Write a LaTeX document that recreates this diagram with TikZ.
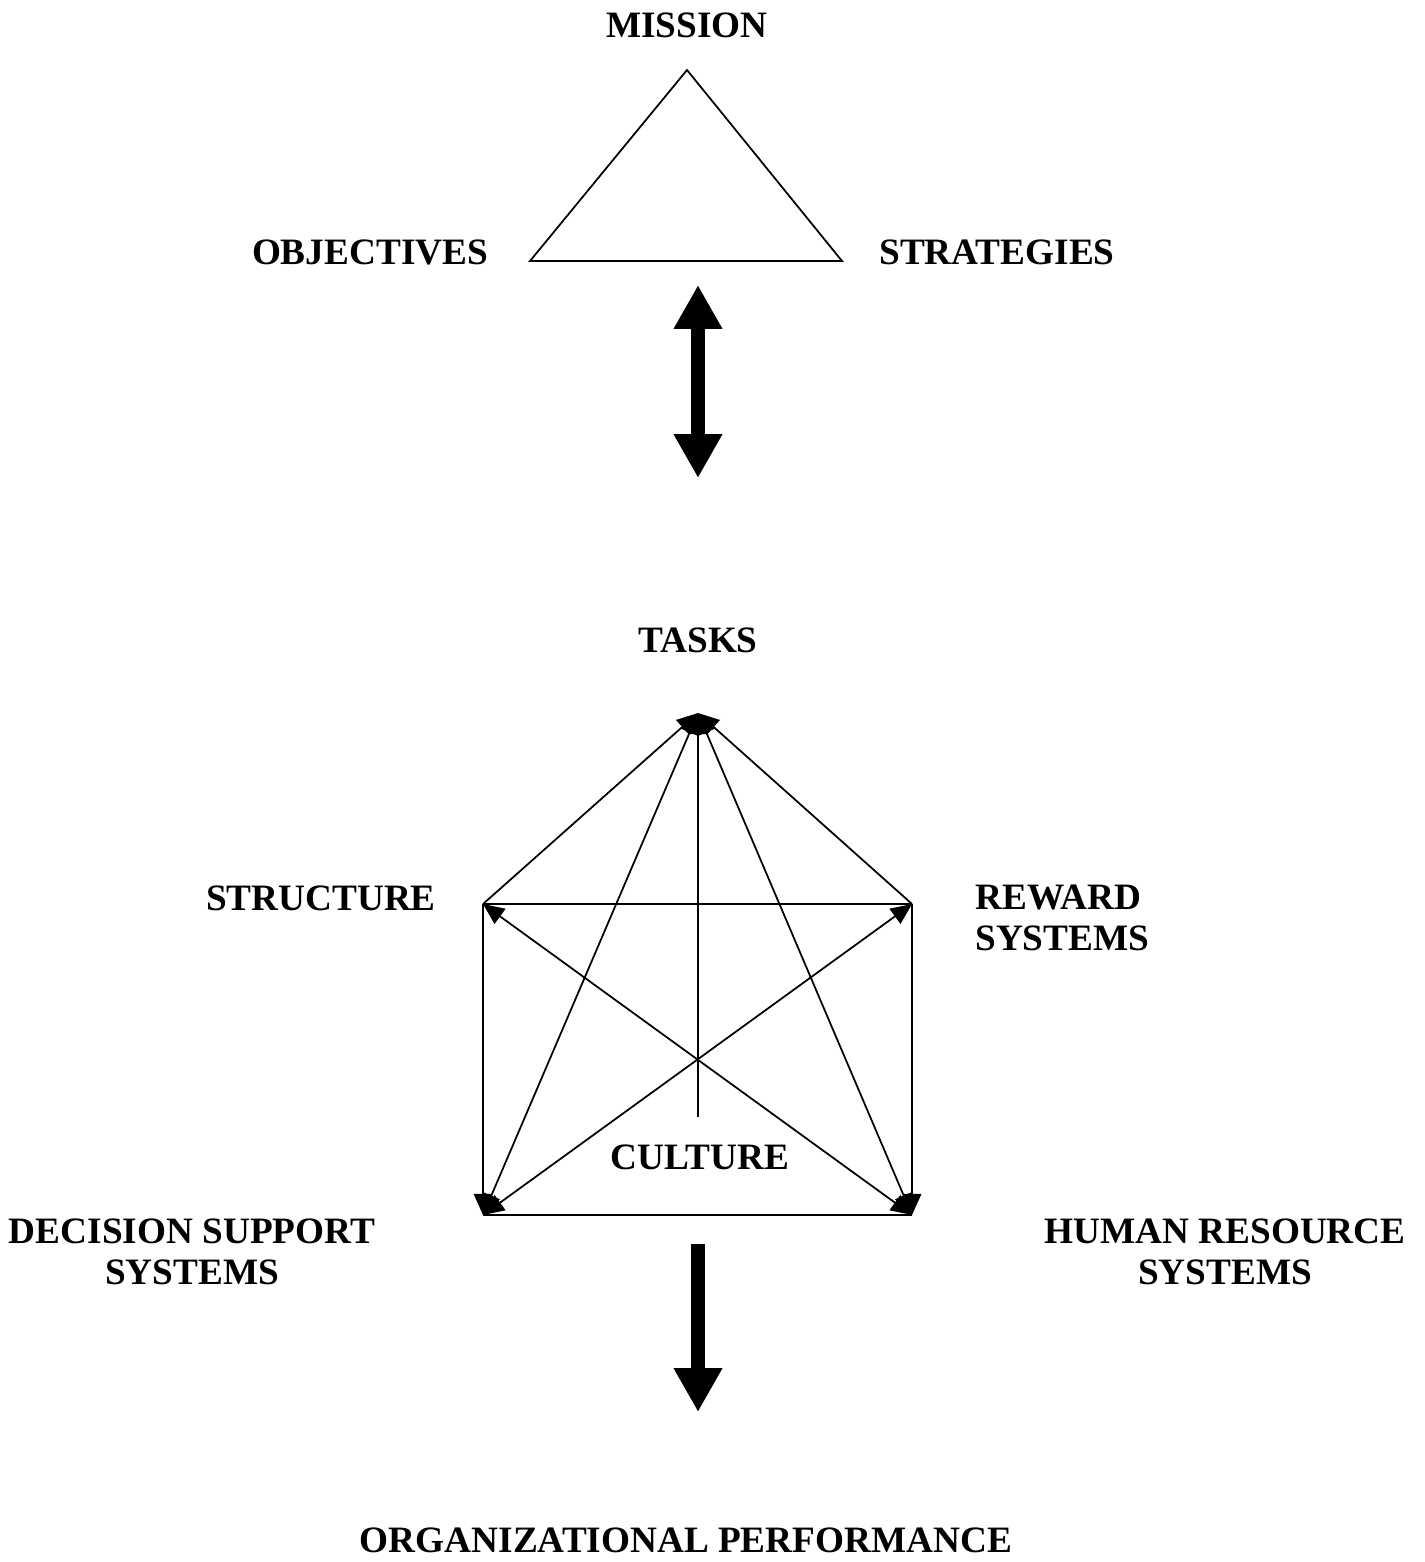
\documentclass[tikz,border=0pt]{standalone}
\usepackage{fontspec}
\setmainfont{Liberation Serif}
\usetikzlibrary{arrows.meta, positioning}

\begin{document}
\begin{tikzpicture}[
        x=0.02cm, y=-0.02cm,
        label/.style={font=\bfseries\fontsize{21.2}{23.5}\selectfont, inner sep=0pt, align=center},
        link/.style={line width=1pt},
        tip/.style={-{Triangle[length=12pt,width=10.5pt]}},
        bitip/.style={{Triangle[length=12pt,width=10.5pt]}-{Triangle[length=12pt,width=10.5pt]}},
        bigarrow/.style={line width=7.6pt, -{Triangle[length=25pt,width=26pt]}},
        ]
        \useasboundingbox (0,0) rectangle (1425,1562);

        % strategy triangle
        \coordinate (m) at (687,70);
        \coordinate (o) at (530,261);
        \coordinate (s) at (842,261);
        \draw[link] (m) -- (o) -- (s) -- cycle;
        \node[label] (mission)    at (687,25)  {MISSION};
        \node[label] (objectives) at (370,252) {OBJECTIVES};
        \node[label] (strategies) at (997,252) {STRATEGIES};

        % link between strategy and design
        \coordinate (up)   at (698,285);
        \coordinate (down) at (698,478);
        \draw[bigarrow, {Triangle[length=25pt,width=26pt]}-{Triangle[length=25pt,width=26pt]}] (up) -- (down);

        % design pentagon
        \coordinate (t) at (698,713);
        \coordinate (st) at (483,904);
        \coordinate (rw) at (912,904);
        \coordinate (ds) at (483,1215);
        \coordinate (hr) at (912,1215);
        \coordinate (cu) at (698,1117);

        \node[label] (tasks)     at (698,640)  {TASKS};
        \node[label] (structure) at (321,898)  {STRUCTURE};
        \node[label, align=left, anchor=west] (reward) at (975,918) {REWARD\\SYSTEMS};
        \node[label] (culture)   at (700,1157) {CULTURE};
        \node[label] (decision)  at (192,1252) {DECISION SUPPORT\\SYSTEMS};
        \node[label] (human)     at (1225,1252) {HUMAN RESOURCE\\SYSTEMS};

        \draw[link] (st) -- (rw);
        \draw[link] (ds) -- (hr);
        \draw[link, tip] (st) -- (t);
        \draw[link, tip] (rw) -- (t);
        \draw[link, tip] (cu) -- (t);
        \draw[link, tip] (st) -- (ds);
        \draw[link, tip] (rw) -- (hr);
        \draw[link, bitip] (t) -- (ds);
        \draw[link, bitip] (t) -- (hr);
        \draw[link, bitip] (st) -- (hr);
        \draw[link, bitip] (rw) -- (ds);

        % outcome
        \coordinate (from) at (698,1244);
        \coordinate (to)   at (698,1412);
        \draw[bigarrow] (from) -- (to);
        \node[label] (performance) at (686,1540) {ORGANIZATIONAL PERFORMANCE};
\end{tikzpicture}
\end{document}
